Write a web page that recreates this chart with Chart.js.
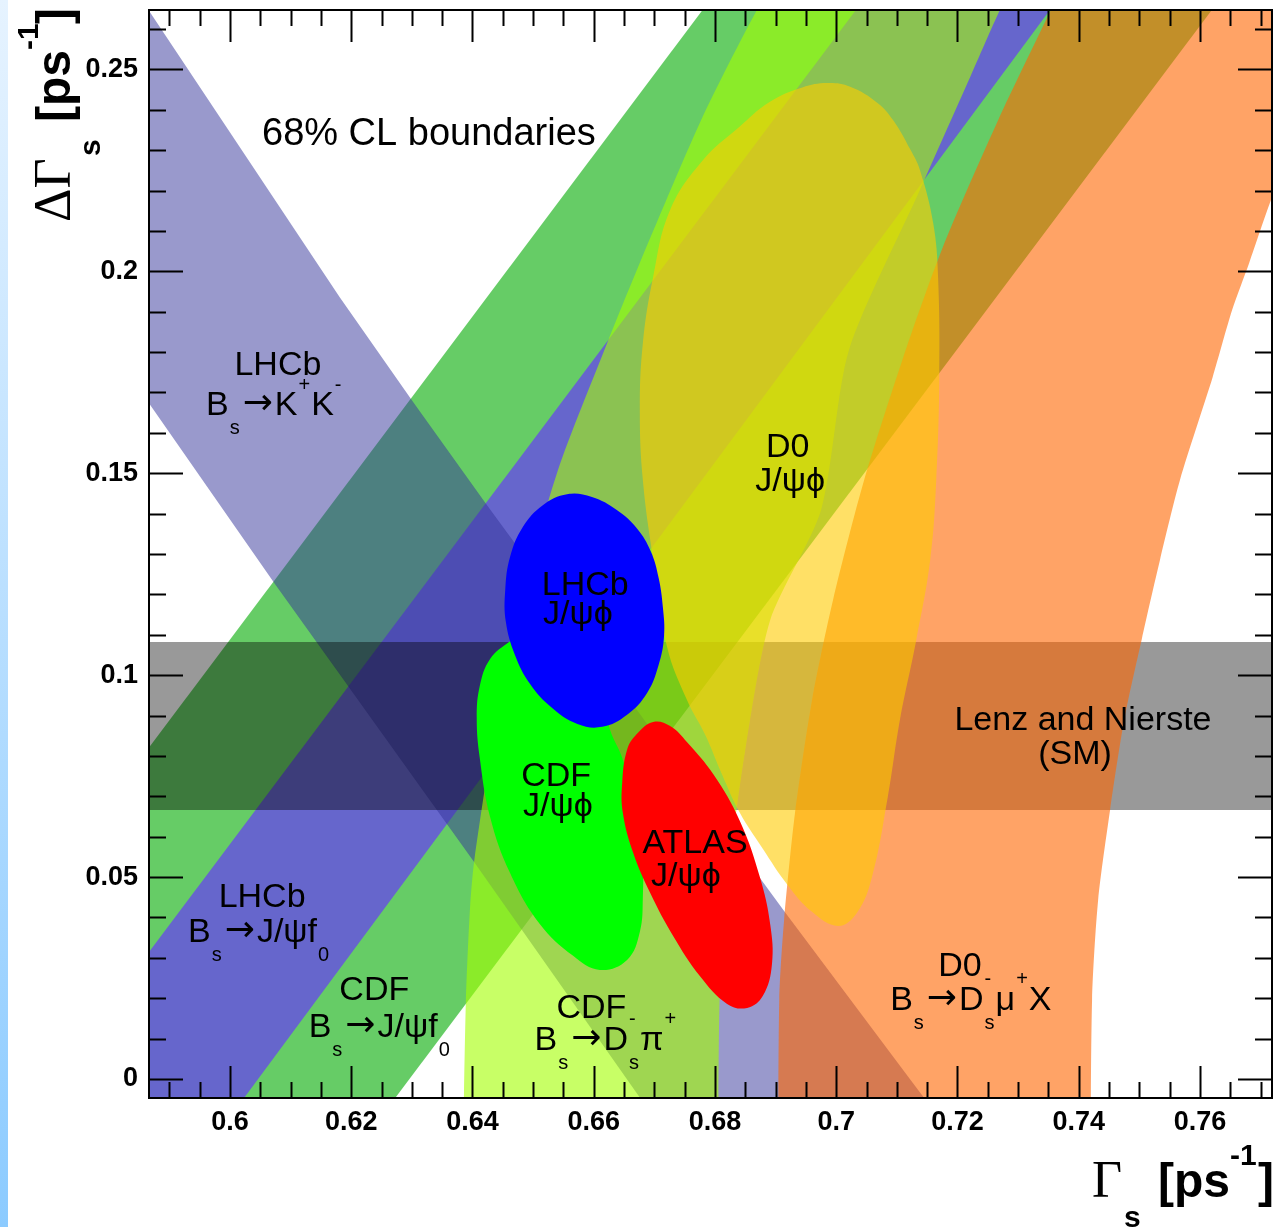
<!DOCTYPE html>
<html><head><meta charset="utf-8">
<script src="https://cdn.jsdelivr.net/npm/chart.js@4.4.1/dist/chart.umd.min.js"></script>
<style>
html,body{margin:0;padding:0;background:#fff;overflow:hidden;}
#strip{position:absolute;left:0;top:0;width:8px;height:1227px;background:linear-gradient(#e6f3ff,#8ccbff);}
#wrap{position:absolute;left:0;top:0;width:1278px;height:1227px;}
</style></head><body>
<div id="strip"></div>
<div id="wrap"><canvas id="c" width="1278" height="1227"></canvas></div>
<script>
// ---------- tick labels ----------
const xTickValues = [0.6,0.62,0.64,0.66,0.68,0.70,0.72,0.74,0.76];
const xTickLabels = ['0.6','0.62','0.64','0.66','0.68','0.7','0.72','0.74','0.76'];
const yTickValues = [0,0.05,0.1,0.15,0.2,0.25];
const yTickLabels = ['0','0.05','0.1','0.15','0.2','0.25'];

// ---------- regions (Gamma_s, DeltaGamma_s) ----------
const cdfF0Band   = [[0.5406,-0.01],[0.6856,0.28],[0.7696,0.28],[0.6246,-0.01]];
const lhcbF0Band  = [[0.5659,-0.01],[0.7109,0.28],[0.7428,0.28],[0.5997,-0.01]];
const lhcbKKBand  = [[0.5835,0.2716],[0.6181,0.1936],[0.6300,0.1681],[0.6424,0.1421],[0.6914,0.0416],[0.7123,-0.0003],[0.7272,-0.0300],
                     [0.6795,-0.0300],[0.6403,0.0537],[0.6073,0.1228],[0.5835,0.1741]];
const smLow = 0.0666, smHigh = 0.1082;
const cdfDsPiBand = [[0.6383,-0.03],[0.6389,0.0188],[0.6396,0.0426],[0.6403,0.0542],[0.6444,0.0938],[0.6480,0.1186],[0.6541,0.1508],
                     [0.6622,0.1822],[0.6673,0.2010],[0.6777,0.2374],[0.6869,0.2647],[0.6967,0.29],
                     [0.7363,0.29],[0.7297,0.2721],[0.7270,0.2647],[0.7221,0.2481],[0.7138,0.2201],[0.7021,0.1805],[0.6975,0.1409],
                     [0.6891,0.1136],[0.6850,0.0815],[0.6821,0.0493],[0.6808,0.0220],[0.6805,-0.03]];
const d0DsMuBand  = [[0.6904,-0.03],[0.6906,0.0196],[0.6914,0.0394],[0.6932,0.0659],[0.6960,0.0938],[0.6995,0.1188],[0.7046,0.1483],
                     [0.7109,0.1780],[0.7174,0.2053],[0.7267,0.2374],[0.7354,0.2647],[0.7394,0.2771],
                     [0.7798,0.2771],[0.7772,0.2374],[0.7719,0.2184],[0.7681,0.2020],[0.7653,0.1904],[0.7621,0.1738],[0.7567,0.1483],
                     [0.7534,0.1285],[0.7504,0.1089],[0.7475,0.0889],[0.7452,0.0669],[0.7432,0.0443],[0.7422,0.0196],[0.7419,-0.03]];
const d0JpsiPhi   = [[0.6944,0.2455],[0.6985,0.2466],[0.7023,0.2457],[0.7068,0.2417],[0.7094,0.2374],[0.7122,0.2302],[0.7138,0.2251],
                     [0.7160,0.2119],[0.7168,0.1986],[0.7170,0.1738],[0.7165,0.1483],
                     [0.7155,0.1285],[0.7132,0.1087],[0.7105,0.0889],[0.7085,0.0698],[0.7059,0.0500],[0.7034,0.0411],[0.7003,0.0379],
                     [0.6960,0.0414],[0.6920,0.0480],[0.6878,0.0572],[0.6841,0.0659],[0.6812,0.0753],[0.6784,0.0852],[0.6754,0.0938],
                     [0.6721,0.1070],[0.6698,0.1287],[0.6681,0.1483],[0.6676,0.1656],[0.6681,0.1822],[0.6698,0.1986],[0.6726,0.2152],
                     [0.6780,0.2275],[0.6840,0.2357],[0.6890,0.2419],[0.6944,0.2455]];
const cdfJpsiPhi  = [[0.6462,0.1084],[0.6487,0.1107],[0.6544,0.1112],[0.6594,0.1037],[0.6619,0.0926],[0.6627,0.0864],[0.6647,0.0795],
                     [0.6665,0.0698],[0.6680,0.0550],[0.6681,0.0451],[0.6676,0.0364],[0.6655,0.0295],[0.6610,0.0270],[0.6566,0.0305],
                     [0.6511,0.0384],[0.6462,0.0510],[0.6429,0.0649],[0.6412,0.0795],[0.6407,0.0894],[0.6412,0.0973],[0.6429,0.1040],
                     [0.6462,0.1084]];
const lhcbJpsiPhi = [[0.6556,0.1448],[0.6597,0.1441],[0.6638,0.1409],[0.6671,0.1364],[0.6694,0.1307],[0.6707,0.1241],[0.6714,0.1169],
                     [0.6716,0.1097],[0.6707,0.1025],[0.6688,0.0956],[0.6655,0.0902],[0.6614,0.0872],[0.6573,0.0879],[0.6531,0.0919],
                     [0.6495,0.0978],[0.6470,0.1050],[0.6455,0.1132],[0.6454,0.1211],[0.6462,0.1293],[0.6483,0.1367],[0.6516,0.1421],
                     [0.6556,0.1448]];
const atlasJpsiPhi= [[0.6698,0.0884],[0.6726,0.0874],[0.6754,0.0834],[0.6797,0.0755],[0.6841,0.0639],[0.6874,0.0500],[0.6891,0.0384],
                     [0.6894,0.0285],[0.6879,0.0206],[0.6853,0.0176],[0.6820,0.0186],[0.6775,0.0255],[0.6731,0.0354],[0.6693,0.0461],
                     [0.6665,0.0560],[0.6648,0.0659],[0.6647,0.0735],[0.6655,0.0815],[0.6671,0.0854],[0.6698,0.0884]];

// ---------- axis ranges ----------
const xMin = 0.58664, xMax = 0.77188, yMin = -0.0047, yMax = 0.2647;

// ---------- text annotations (data coordinates) ----------
const ARW = '\u2192', PSI = '\u03C8', PHI = '\u03D5';
const labelDefs = [
 {x:0.60528, y:0.23125, size:38, align:'left', t:[['68% CL boundaries']]},
 {x:0.6079, y:0.1743, t:[['LHCb']]},
 {x:0.6073, y:0.1644, t:[['B'],['s','b'],[ARW,'a'],['K'],['+','p'],['K'],['-','p']]},
 {x:0.6053, y:0.0426, t:[['LHCb']]},
 {x:0.6048, y:0.0339, t:[['B'],['s','b'],[ARW,'a'],['J/'+PSI+'f'],['0','b']]},
 {x:0.6238, y:0.0196, t:[['CDF']]},
 {x:0.6247, y:0.0104, t:[['B'],['s','b'],[ARW,'a'],['J/'+PSI+'f'],['0','b']]},
 {x:0.6586, y:0.1198, t:[['LHCb']]},
 {x:0.6574, y:0.1127, t:[['J/'+PSI+PHI]]},
 {x:0.6538, y:0.0725, t:[['CDF']]},
 {x:0.6541, y:0.0651, t:[['J/'+PSI+PHI]]},
 {x:0.6767, y:0.0560, t:[['ATLAS']]},
 {x:0.6752, y:0.0478, t:[['J/'+PSI+PHI]]},
 {x:0.6596, y:0.0151, t:[['CDF']]},
 {x:0.6620, y:0.0072, t:[['B'],['s','b'],[ARW,'a'],['D'],['-','ps','s'],['\u03C0'],['+','p']]},
 {x:0.6920, y:0.1540, t:[['D0']]},
 {x:0.6924, y:0.1456, t:[['J/'+PSI+PHI]]},
 {x:0.7407, y:0.0864, t:[['Lenz and Nierste']]},
 {x:0.7394, y:0.0780, t:[['(SM)']]},
 {x:0.7204, y:0.0255, t:[['D0']]},
 {x:0.7222, y:0.0171, t:[['B'],['s','b'],[ARW,'a'],['D'],['-','ps','s'],['\u03BC'],['+','p'],['X']]}
];

const SANS = "'Liberation Sans', Arial, 'DejaVu Sans', sans-serif";
const SERIF = "'Liberation Serif', 'Times New Roman', 'DejaVu Serif', serif";
const ARROWFONT = "'DejaVu Sans', sans-serif";

function drawRich(ctx, toks, cx, by, size, align) {
  const small = Math.round(size * 0.58);
  const big = `${size}px ${SANS}`, sm = `${small}px ${SANS}`, arr = `${Math.round(size*1.05)}px ${ARROWFONT}`;
  const widths = toks.map(tk => {
    if (!tk[1]) { ctx.font = big; return ctx.measureText(tk[0]).width; }
    if (tk[1] === 'a') { ctx.font = arr; return ctx.measureText(tk[0]).width + 4; }
    ctx.font = sm;
    if (tk[1] === 'ps') return Math.max(ctx.measureText(tk[0]).width, ctx.measureText(tk[2]).width) + 2;
    return ctx.measureText(tk[0]).width + 2;
  });
  const total = widths.reduce((a, b) => a + b, 0);
  let xx = align === 'left' ? cx : cx - total / 2;
  ctx.textAlign = 'left';
  toks.forEach((tk, i) => {
    if (!tk[1]) { ctx.font = big; ctx.fillText(tk[0], xx, by); }
    else if (tk[1] === 'a') { ctx.font = arr; ctx.fillText(tk[0], xx + 2, by - size * 0.02); }
    else if (tk[1] === 'b') { ctx.font = sm; ctx.fillText(tk[0], xx + 1, by + size * 0.57); }
    else if (tk[1] === 'p') { ctx.font = sm; ctx.fillText(tk[0], xx + 1, by - size * 0.72); }
    else { ctx.font = sm; ctx.fillText(tk[0], xx + 1, by - size * 0.72); ctx.fillText(tk[2], xx + 1, by + size * 0.57); }
    xx += widths[i];
  });
}

function drawParts(ctx, parts) {
  parts.forEach(p => { ctx.font = p.f; ctx.fillText(p.t, p.dx, p.dy); });
}

const overlay = {
  id: 'overlay',
  afterDatasetsDraw(chart) {
    const {ctx, chartArea: a, scales: {x, y}} = chart;
    ctx.save();
    ctx.fillStyle = '#000';
    ctx.textBaseline = 'alphabetic';
    labelDefs.forEach(L => drawRich(ctx, L.t, x.getPixelForValue(L.x), y.getPixelForValue(L.y), L.size || 34, L.align || 'center'));
    ctx.strokeStyle = '#000';
    ctx.lineWidth = 2;
    ctx.strokeRect(a.left, a.top, a.right - a.left, a.bottom - a.top);
    ctx.beginPath();
    const xt = (v, len) => { if (v < xMin || v > xMax) return; const p = Math.round(x.getPixelForValue(v)) + 0.5;
      ctx.moveTo(p, a.bottom); ctx.lineTo(p, a.bottom - len); ctx.moveTo(p, a.top); ctx.lineTo(p, a.top + len); };
    const yt = (v, len) => { if (v < yMin || v > yMax) return; const p = Math.round(y.getPixelForValue(v)) + 0.5;
      ctx.moveTo(a.left, p); ctx.lineTo(a.left + len, p); ctx.moveTo(a.right, p); ctx.lineTo(a.right - len, p); };
    for (let k = 116; k <= 156; k++) xt(k * 0.005, k % 4 === 0 ? 32 : 16);
    for (let k = 0; k <= 26; k++) yt(k * 0.01, k % 5 === 0 ? 34 : 17);
    ctx.stroke();
    ctx.restore();
  },
  afterDraw(chart) {
    const ctx = chart.ctx;
    ctx.save();
    ctx.fillStyle = '#000';
    ctx.textAlign = 'left';
    ctx.textBaseline = 'alphabetic';
    const parts = (o) => [
      {t: '\u0393', f: `52px ${SERIF}`, dx: o.g, dy: 0},
      {t: 's', f: `bold 30px ${SANS}`, dx: o.s, dy: 30},
      {t: '[ps', f: `bold 48px ${SANS}`, dx: o.b, dy: 0},
      {t: '-1', f: `bold 30px ${SANS}`, dx: o.e, dy: -32},
      {t: ']', f: `bold 48px ${SANS}`, dx: o.c, dy: 0}
    ];
    ctx.save();
    ctx.translate(1092, 1197);
    drawParts(ctx, parts({g: 0, s: 32, b: 66, e: 138, c: 166}));
    ctx.restore();
    ctx.save();
    ctx.translate(70, 222);
    ctx.rotate(-Math.PI / 2);
    const yp = parts({g: 0, s: 66, b: 100, e: 172, c: 198});
    yp[0].t = '\u0394\u0393';
    drawParts(ctx, yp);
    ctx.restore();
    ctx.restore();
  }
};

// closed smooth outline: wrap one point on each side so the joint is smooth
const wrapClosed = pts => [pts[pts.length - 2], ...pts, pts[1]];

const mk = (pts, color, order, tension) => ({
  data: pts.map(([gx, gy]) => ({x: gx, y: gy})),
  showLine: true, fill: 'shape', backgroundColor: color,
  borderColor: 'rgba(0,0,0,0)', borderWidth: 0,
  pointRadius: 0, pointHoverRadius: 0, pointHitRadius: 0,
  tension: tension, capBezierPoints: false, order: order
});

const smBand = [[xMin - 0.02, smLow], [xMax + 0.02, smLow], [xMax + 0.02, smHigh], [xMin - 0.02, smHigh]];

const noPad = s => { s.paddingTop = 0; s.paddingBottom = 0; s.paddingLeft = 0; s.paddingRight = 0; };

Chart.defaults.font.family = SANS;
new Chart(document.getElementById('c'), {
  type: 'scatter',
  data: {
    datasets: [
      mk(cdfF0Band,   '#66CC66', 10, 0),
      mk(lhcbF0Band,  '#6666CC', 9, 0),
      mk(lhcbKKBand,  'rgba(51,51,153,0.5)', 8, 0),
      mk(smBand,      'rgba(0,0,0,0.4)', 7, 0),
      mk(cdfDsPiBand, 'rgba(163,255,0,0.6)', 6, 0.25),
      mk(d0DsMuBand,  'rgba(255,102,0,0.6)', 5, 0.25),
      mk(wrapClosed(d0JpsiPhi),   'rgba(255,203,0,0.6)', 4, 0.4),
      mk(wrapClosed(cdfJpsiPhi),  '#00FF00', 3, 0.4),
      mk(wrapClosed(lhcbJpsiPhi), '#0000FF', 2, 0.4),
      mk(wrapClosed(atlasJpsiPhi),'#FF0000', 1, 0.4)
    ]
  },
  options: {
    responsive: false, maintainAspectRatio: false, animation: false, devicePixelRatio: 1,
    events: [],
    layout: {padding: {top: 10, right: 6, left: 0, bottom: 0}},
    plugins: {legend: {display: false}, tooltip: {enabled: false}},
    scales: {
      x: {
        type: 'linear', min: xMin, max: xMax,
        grid: {display: false, drawTicks: false}, border: {display: false},
        afterBuildTicks: s => { s.ticks = xTickValues.map(v => ({value: v})); },
        afterFit: s => { s.height = 129; noPad(s); },
        ticks: {autoSkip: false, maxRotation: 0, minRotation: 0, padding: 11, color: '#000',
          font: {size: 27, weight: 'bold', family: SANS, lineHeight: 1},
          callback: (v, i) => xTickLabels[i]}
      },
      y: {
        type: 'linear', min: yMin, max: yMax,
        grid: {display: false, drawTicks: false}, border: {display: false},
        afterBuildTicks: s => { s.ticks = yTickValues.map(v => ({value: v})); },
        afterFit: s => { s.width = 149; noPad(s); },
        ticks: {autoSkip: false, padding: 11, color: '#000',
          font: {size: 27, weight: 'bold', family: SANS, lineHeight: 1},
          callback: (v, i) => yTickLabels[i]}
      }
    }
  },
  plugins: [overlay]
});
</script>
</body></html>
